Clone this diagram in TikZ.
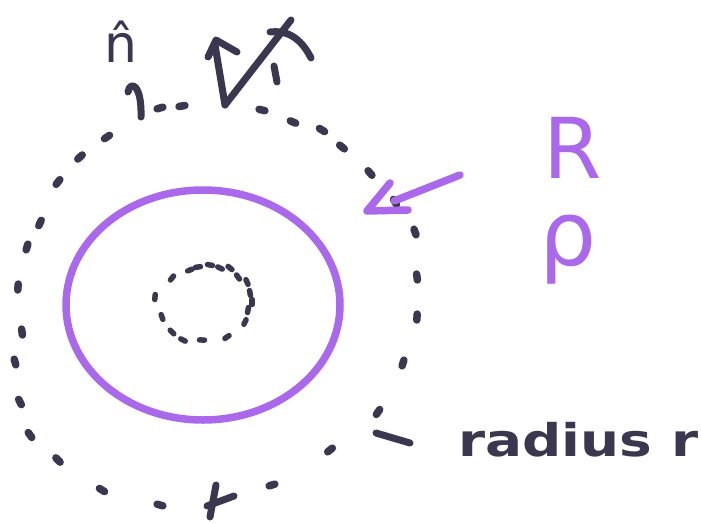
\documentclass[tikz,border=0pt]{standalone}
\usepackage{fontspec}
\setmainfont{DejaVu Sans}
\definecolor{ink}{RGB}{58,55,78}
\definecolor{mpurple}{RGB}{170,104,234}
\tikzset{
  inkpen/.style={draw=ink, line width=7pt, line cap=round, line join=round},
  dotpen/.style={draw=ink, line width=7.5pt, line cap=round},
  smalldot/.style={draw=ink, line width=5.5pt, line cap=round},
  ppen/.style={draw=mpurple, line width=7.5pt, line cap=round, line join=round},
  ptext/.style={text=mpurple, inner sep=0pt},
  itext/.style={text=ink, inner sep=0pt}
}
\begin{document}
\begin{tikzpicture}[x=1pt,y=-1pt]
\useasboundingbox (0,0) rectangle (701,522);
\fill[white] (0,0) rectangle (701,522);

% large dotted circle (centre 216,304)
\foreach \px/\py in {160/108,182/106,262/110,293/122,322/130,342/147,370/173,395/202,
  415/232,417/277,417/317,403/363,378/412,330/450,272/485,160/505,102/490,58/460,
  30/435,20/402,15/362,22/332,18/287,27/247,40/223,58/182,80/157,107/137}{
  \pgfmathsetmacro\ang{atan2(\py-304,\px-216)}
  \draw[dotpen] (\px,\py) ++(\ang+90:3) -- ++(\ang-90:6);
}

% small dotted circle (centre 203,302)
\foreach \px/\py in {172/278,190/270,198/267,210/265,220/268,230/268,238/277,247/282,
  250/293,252/302,248/310,245/322,227/337,202/340,183/340,172/332,162/317,155/297}{
  \pgfmathsetmacro\ang{atan2(\py-302,\px-203)}
  \draw[smalldot] (\px,\py) ++(\ang+90:2.5) -- ++(\ang-90:5);
}

% purple solid circle
\draw[ppen] (203,305) ellipse [x radius=137, y radius=115];

% purple arrow
\coordinate (atail) at (460,175);
\coordinate (ahead) at (394,201);
\draw[ppen] (atail) -- (ahead);
\draw[ppen] (390,183) -- (367,211) -- (408,210);

% labels
\node[ptext, font=\fontsize{84}{84}\selectfont] (R) at (573,148) {R};
\node[ptext, font=\fontsize{90}{90}\selectfont] (rho) at (568,250) {ρ};
\node[itext, anchor=base west, xscale=1.22, font=\bfseries\fontsize{45}{45}\selectfont] (rad) at (458,456) {radius r};
\node[itext, anchor=base, font=\fontsize{52}{52}\selectfont] (nhat) at (121,62) {\^n};

% pointer dash to "radius r"
\coordinate (pd1) at (376,433);
\coordinate (pd2) at (410,443);
\draw[inkpen] (pd1) -- (pd2);

% stroke under n-hat
\draw[inkpen] (128,92) .. controls (130,80) and (142,84) .. (141,117);

% v with arrow and cross at top
\coordinate (vb) at (225,105);
\draw[inkpen] (vb) -- (215,45);
\draw[inkpen] (208,57) -- (216,40) -- (237,52);
\draw[inkpen] (vb) -- (291,20);
\draw[inkpen] (270,32) .. controls (285,30) and (300,36) .. (311,58);
\draw[inkpen] (274,66) -- (277,82);

% cross at bottom
\draw[inkpen] (216,485) -- (210,517);
\draw[inkpen] (207,506) -- (234,496);
\end{tikzpicture}
\end{document}
